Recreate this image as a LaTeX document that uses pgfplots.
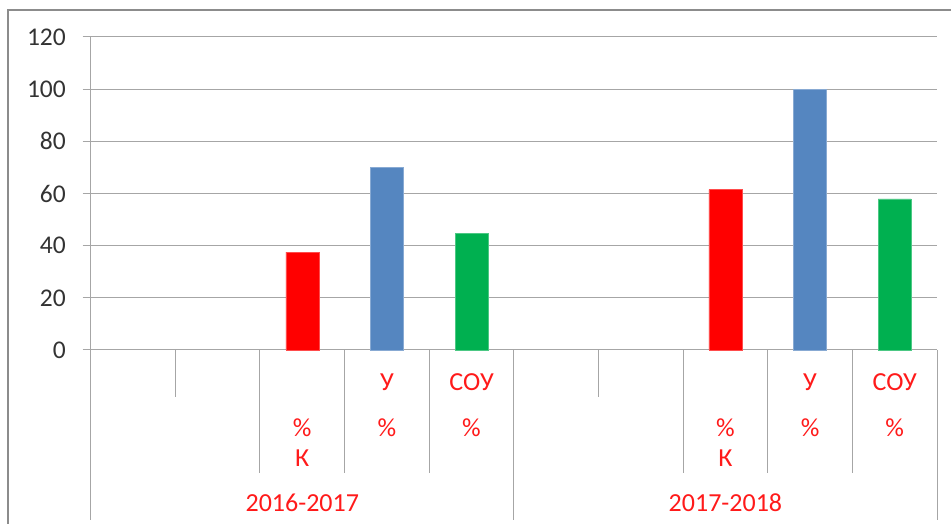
\documentclass[border=0pt]{standalone}
\usepackage{pgfplots}
\pgfplotsset{compat=1.18}
\usepackage{fontspec}
\setmainfont{Carlito}
\definecolor{gridgray}{HTML}{A6A6A6}
\definecolor{framegray}{HTML}{8C8C8C}
\definecolor{barred}{HTML}{FF0000}
\definecolor{barblue}{HTML}{5586C0}
\definecolor{bargreen}{HTML}{00B050}
\definecolor{lblred}{HTML}{FF1A1A}
\tikzset{lbl/.style={lblred, font=\fontsize{26}{26}\selectfont, inner sep=0pt},
  sep/.style={gridgray, line width=1pt}}
\begin{document}
\begin{tikzpicture}
\useasboundingbox (0pt,0pt) rectangle (951pt,524pt);
\draw[framegray, line width=2pt] (8pt,-5pt) -- (8pt,514pt) -- (960pt,514pt);
\begin{axis}[
  at={(90.7pt,174pt)}, anchor=south west,
  scale only axis, width=846.3pt, height=313pt,
  xmin=-0.5, xmax=9.5, ymin=0, ymax=120,
  ytick={0,20,40,60,80,100,120},
  xtick=\empty,
  ymajorgrids, grid style={gridgray, line width=1pt},
  axis x line*=bottom, axis y line*=left,
  axis line style={gridgray, line width=1pt},
  major tick length=8pt, tick align=outside,
  ytick style={gridgray, line width=1pt},
  /pgf/number format/assume math mode=true,
  yticklabel style={font=\fontsize{25.5}{25.5}\selectfont, color=black!80, anchor=east, inner sep=0pt, xshift=-16.7pt},
  ybar, bar width=33pt, bar shift=0pt,
  clip=false,
]
\addplot[fill=barred, draw=barred!70!white, line width=0.5pt] coordinates {(2,37.5) (7,61.5)};
\addplot[fill=barblue, draw=barblue!70!white, line width=0.5pt] coordinates {(3,70) (8,100)};
\addplot[fill=bargreen, draw=bargreen!70!white, line width=0.5pt] coordinates {(4,44.6) (9,57.9)};
% category separators
\draw[sep] (axis cs:0.5,0) -- ([yshift=-47pt]axis cs:0.5,0);
\draw[sep] (axis cs:5.5,0) -- ([yshift=-47pt]axis cs:5.5,0);
\draw[sep] (axis cs:1.5,0) -- ([yshift=-123pt]axis cs:1.5,0);
\draw[sep] (axis cs:2.5,0) -- ([yshift=-123pt]axis cs:2.5,0);
\draw[sep] (axis cs:3.5,0) -- ([yshift=-123pt]axis cs:3.5,0);
\draw[sep] (axis cs:6.5,0) -- ([yshift=-123pt]axis cs:6.5,0);
\draw[sep] (axis cs:7.5,0) -- ([yshift=-123pt]axis cs:7.5,0);
\draw[sep] (axis cs:8.5,0) -- ([yshift=-123pt]axis cs:8.5,0);
\draw[sep] (axis cs:-0.5,0) -- ([yshift=-170pt]axis cs:-0.5,0);
\draw[sep] (axis cs:4.5,0) -- ([yshift=-170pt]axis cs:4.5,0);
\draw[sep] (axis cs:9.5,0) -- ([yshift=-170pt]axis cs:9.5,0);
% category labels
\node[lbl] at ([yshift=-78pt]axis cs:2,0) {\%};
\node[lbl] at ([yshift=-108pt]axis cs:2,0) {К};
\node[lbl] at ([yshift=-32pt]axis cs:3,0) {У};
\node[lbl] at ([yshift=-78pt]axis cs:3,0) {\%};
\node[lbl] at ([yshift=-32pt]axis cs:4,0) {СОУ};
\node[lbl] at ([yshift=-78pt]axis cs:4,0) {\%};
\node[lbl] at ([yshift=-78pt]axis cs:7,0) {\%};
\node[lbl] at ([yshift=-108pt]axis cs:7,0) {К};
\node[lbl] at ([yshift=-32pt]axis cs:8,0) {У};
\node[lbl] at ([yshift=-78pt]axis cs:8,0) {\%};
\node[lbl] at ([yshift=-32pt]axis cs:9,0) {СОУ};
\node[lbl] at ([yshift=-78pt]axis cs:9,0) {\%};
\node[lbl] at ([yshift=-153pt]axis cs:2,0) {2016-2017};
\node[lbl] at ([yshift=-153pt]axis cs:7,0) {2017-2018};
\end{axis}
\end{tikzpicture}
\end{document}
